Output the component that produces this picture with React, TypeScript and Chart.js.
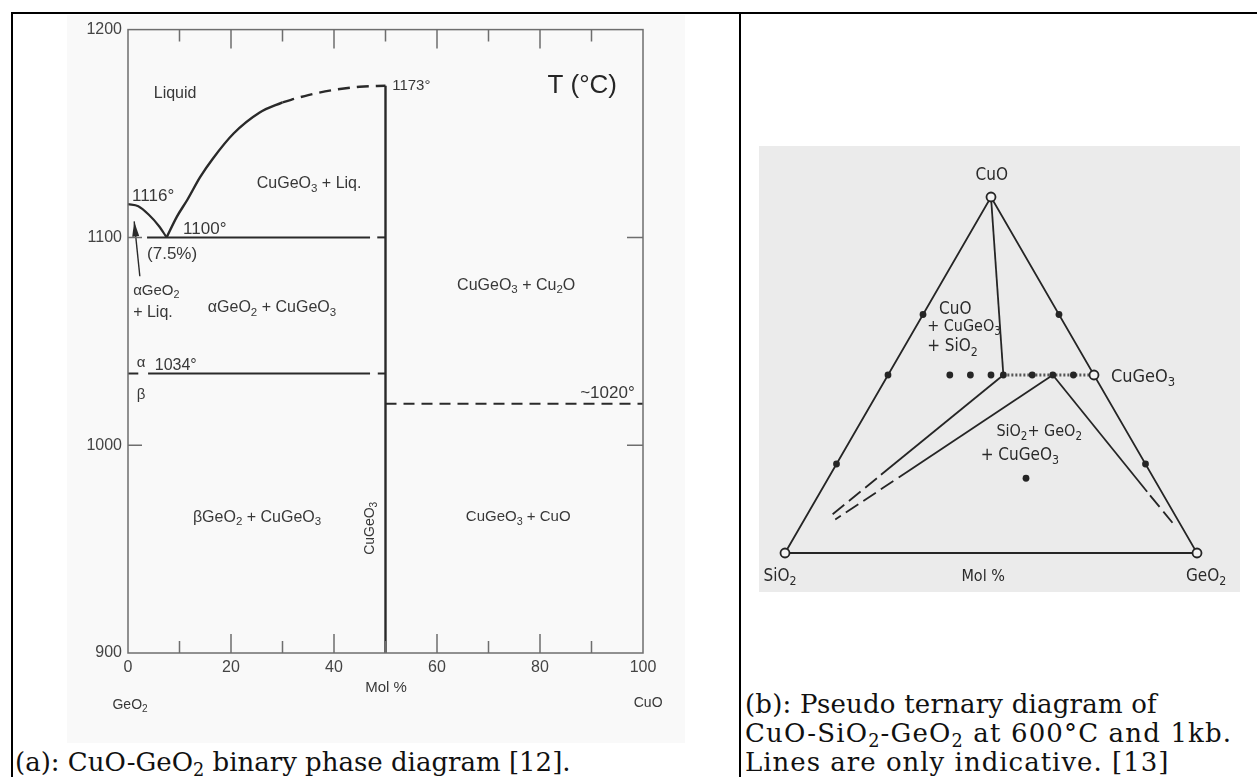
import React, { useEffect, useRef } from "react";
import { Chart, registerables } from "chart.js";

Chart.register(...registerables);

const SANS = "'Liberation Sans', Arial, Helvetica, sans-serif";
const NARROW = "'Liberation Sans Narrow', 'DejaVu Sans Condensed', 'Liberation Sans', sans-serif";
const SERIF = "'DejaVu Serif', 'Liberation Serif', serif";

// ---------------- Panel (a): CuO–GeO2 binary phase diagram ----------------
const xTickValues = [0, 20, 40, 60, 80, 100];
const yTickValues = [900, 1000, 1100, 1200];
const minorXTicks = [10, 30, 50, 70, 90];
const majorXTicks = [20, 40, 60, 80];
const sideTicks = [1000, 1100];

const liquidusLeftX = [0, 2, 4, 6, 7.5];
const liquidusLeftT = [1116, 1115, 1111, 1105.5, 1100];
const liquidusRightX = [7.5, 9.5, 11.5, 14, 16.5, 20.5, 25.5, 30];
const liquidusRightT = [1100, 1110, 1118, 1129, 1138, 1150, 1160, 1165];
const liquidusDashedX = [30, 35, 40, 45, 50];
const liquidusDashedT = [1165, 1168.5, 1171, 1172.5, 1173];
const compoundX = [50, 50];
const compoundT = [900, 1173];
const eutecticX = [3.7, 47];
const eutecticT = [1100, 1100];
const eutecticStubX = [48.4, 50];
const eutecticStubT = [1100, 1100];
const transitionX = [3.9, 47];
const transitionT = [1034.5, 1034.5];
const transitionStubLeftX = [0, 2];
const transitionStubRightX = [48.5, 50];
const transitionStubT = [1034.5, 1034.5];
const cu2oX = [50, 100];
const cu2oT = [1020, 1020];
const arrowX = [2.3, 1.2];
const arrowT = [1081.3, 1107.7];

const phaseLabelText = [
  "Liquid", "1173°", "T (°C)", "CuGeO_3 + Liq.", "1116°", "1100°", "(7.5%)",
  "αGeO_2", "+ Liq.", "αGeO_2 + CuGeO_3", "α", "1034°", "β",
  "CuGeO_3 + Cu_2O", "~1020°", "βGeO_2 + CuGeO_3", "CuGeO_3 + CuO",
  "Mol %", "GeO_2", "CuO",
];
const phaseLabelX = [5, 51.3, 88.2, 25, 0.8, 10.7, 3.7, 1.0, 1.0, 15.5, 1.7, 5.2, 1.7, 63.9, 87.8, 12.6, 65.6, 50.1, 0.4, 101];
const phaseLabelT = [1169, 1173, 1173, 1126, 1120, 1104, 1092, 1074.5, 1064, 1066, 1039.4, 1038.5, 1024, 1077, 1025, 965.4, 965.4, 883, 875, 876];
const phaseLabelAlign = ["left", "left", "center", "left", "left", "left", "left", "left", "left", "left", "left", "left", "left", "left", "left", "left", "left", "center", "center", "center"];
const phaseLabelSize = [16, 15, 26, 16, 17, 17, 17, 15, 16, 16, 15, 16, 15, 16, 17, 16, 15, 15, 14, 14];
const verticalLabelText = "CuGeO_3";
const verticalLabelX = 47;
const verticalLabelT = 960;

// ---------------- Panel (b): pseudo-ternary CuO–SiO2–GeO2 ----------------
// compositions in mol% [CuO, GeO2]; SiO2 = remainder
const openCuO = [100, 0, 0, 50];
const openGeO2 = [0, 0, 100, 50];
const dotCuO = [25, 50, 67, 25, 67, 50, 50, 50, 50, 50, 50, 50, 21];
const dotGeO2 = [0, 0, 0, 75, 33, 15, 20, 25, 28, 35, 40, 45, 48];
const edgeCuO = [0, 0, 100, 0];
const edgeGeO2 = [0, 100, 0, 0];
const apexTieCuO = [100, 50];
const apexTieGeO2 = [0, 28];
const tie1SolidCuO = [50, 22];
const tie1SolidGeO2 = [28, 12.3];
const tie1DashCuO = [21, 10];
const tie1DashGeO2 = [11.8, 5.6];
const tie2SolidCuO = [50, 21.2];
const tie2SolidGeO2 = [40, 17];
const tie2DashCuO = [20.2, 9.4];
const tie2DashGeO2 = [16.2, 7.5];
const tie3SolidCuO = [50, 17.2];
const tie3SolidGeO2 = [40, 79.3];
const tie3DashCuO = [16.2, 8.5];
const tie3DashGeO2 = [80.5, 89.8];
const dottedCuO = [50, 50];
const dottedGeO2 = [28, 50];

const ternLabelText = ["CuO", "CuO", "+ CuGeO_3", "+ SiO_2", "CuGeO_3", "SiO_2+ GeO_2", "+ CuGeO_3", "SiO_2", "Mol %", "GeO_2"];
const ternLabelX = [50.2, 37.4, 34.5, 34.5, 79.1, 61.7, 57.0, -1.2, 48.1, 102.2];
const ternLabelY = [91.7, 59.1, 55.0, 50.1, 42.8, 29.4, 23.8, -5.8, -5.8, -5.8];
const ternLabelAlign = ["center", "left", "left", "left", "left", "center", "center", "center", "center", "center"];
const ternLabelSize = [17, 17, 16, 17, 18, 16, 17, 17, 16, 17];

// ---------------- helpers ----------------
const pts = (xs: number[], ys: number[]) => xs.map((x, i) => ({ x, y: ys[i] }));
const SQ3 = Math.sqrt(3) / 2;
const tern = (cuo: number[], geo2: number[]) => cuo.map((c, i) => ({ x: geo2[i] + c / 2, y: c * SQ3 }));

function lineDs(data: any[], width: number, color: string, dash: number[] = [], tension = 0) {
  return {
    data,
    showLine: true,
    borderColor: color,
    backgroundColor: color,
    borderWidth: width,
    borderDash: dash,
    pointRadius: 0,
    pointHoverRadius: 0,
    fill: false,
    tension,
    cubicInterpolationMode: tension > 0 ? "monotone" : "default",
    clip: false,
  };
}

function drawRich(ctx: CanvasRenderingContext2D, text: string, x: number, y: number, size: number, align: string, family: string, color: string) {
  const parts: { t: string; sub: boolean }[] = [];
  const re = /_(\d)/g;
  let last = 0;
  let m: RegExpExecArray | null;
  while ((m = re.exec(text))) {
    if (m.index > last) parts.push({ t: text.slice(last, m.index), sub: false });
    parts.push({ t: m[1], sub: true });
    last = m.index + m[0].length;
  }
  if (last < text.length) parts.push({ t: text.slice(last), sub: false });
  const subSize = size * 0.72;
  let total = 0;
  const widths = parts.map((p) => {
    ctx.font = `${p.sub ? subSize : size}px ${family}`;
    const w = ctx.measureText(p.t).width;
    total += w;
    return w;
  });
  let cx = align === "center" ? x - total / 2 : align === "right" ? x - total : x;
  ctx.fillStyle = color;
  ctx.textBaseline = "middle";
  ctx.textAlign = "left";
  parts.forEach((p, i) => {
    ctx.font = `${p.sub ? subSize : size}px ${family}`;
    ctx.fillText(p.t, cx, p.sub ? y + size * 0.32 : y);
    cx += widths[i];
  });
}

const phasePlugin = {
  id: "phaseDecor",
  afterDatasetsDraw(chart: any) {
    const { ctx, chartArea: a, scales } = chart;
    const xs = scales.x;
    const ys = scales.y;
    ctx.save();
    ctx.strokeStyle = "#6e6e6e";
    ctx.lineWidth = 1.5;
    ctx.strokeRect(a.left, a.top, a.right - a.left, a.bottom - a.top);
    ctx.beginPath();
    minorXTicks.forEach((v) => {
      const px = xs.getPixelForValue(v);
      ctx.moveTo(px, a.top); ctx.lineTo(px, a.top + 12);
      ctx.moveTo(px, a.bottom); ctx.lineTo(px, a.bottom - 12);
    });
    majorXTicks.forEach((v) => {
      const px = xs.getPixelForValue(v);
      ctx.moveTo(px, a.top); ctx.lineTo(px, a.top + 19);
      ctx.moveTo(px, a.bottom); ctx.lineTo(px, a.bottom - 19);
    });
    sideTicks.forEach((v) => {
      const py = ys.getPixelForValue(v);
      ctx.moveTo(a.left, py); ctx.lineTo(a.left + 14, py);
      ctx.moveTo(a.right, py); ctx.lineTo(a.right - 16, py);
    });
    ctx.stroke();

    // arrowhead
    const x0 = xs.getPixelForValue(arrowX[0]);
    const y0 = ys.getPixelForValue(arrowT[0]);
    const x1 = xs.getPixelForValue(arrowX[1]);
    const y1 = ys.getPixelForValue(arrowT[1]);
    const len = Math.hypot(x1 - x0, y1 - y0);
    const dx = (x1 - x0) / len;
    const dy = (y1 - y0) / len;
    ctx.fillStyle = "#2a2a2a";
    ctx.beginPath();
    ctx.moveTo(x1, y1);
    ctx.lineTo(x1 - dx * 15 - dy * 3.5, y1 - dy * 15 + dx * 3.5);
    ctx.lineTo(x1 - dx * 15 + dy * 3.5, y1 - dy * 15 - dx * 3.5);
    ctx.closePath();
    ctx.fill();

    phaseLabelText.forEach((t, i) => {
      const px = xs.getPixelForValue(phaseLabelX[i]);
      const py = ys.getPixelForValue(phaseLabelT[i]);
      const color = i === 2 ? "#262626" : "#383838";
      drawRich(ctx, t, px, py, phaseLabelSize[i], phaseLabelAlign[i], SANS, color);
    });
    ctx.save();
    ctx.translate(xs.getPixelForValue(verticalLabelX), ys.getPixelForValue(verticalLabelT));
    ctx.rotate(-Math.PI / 2);
    drawRich(ctx, verticalLabelText, 0, 0, 14, "center", SANS, "#383838");
    ctx.restore();
    ctx.restore();
  },
};

const ternPlugin = {
  id: "ternDecor",
  afterDatasetsDraw(chart: any) {
    const { ctx, scales } = chart;
    ctx.save();
    ternLabelText.forEach((t, i) => {
      drawRich(ctx, t, scales.x.getPixelForValue(ternLabelX[i]), scales.y.getPixelForValue(ternLabelY[i]), ternLabelSize[i], ternLabelAlign[i], NARROW, "#2a2a2a");
    });
    ctx.restore();
  },
};

export default function App() {
  const leftRef = useRef<HTMLCanvasElement>(null);
  const rightRef = useRef<HTMLCanvasElement>(null);

  useEffect(() => {
    const ink = "#2a2a2a";
    const left = new Chart(leftRef.current as HTMLCanvasElement, {
      type: "scatter",
      data: {
        datasets: [
          lineDs(pts(liquidusLeftX, liquidusLeftT), 2.2, ink, [], 0.4),
          lineDs(pts(liquidusRightX, liquidusRightT), 2.4, ink, [], 0.4),
          lineDs(pts(liquidusDashedX, liquidusDashedT), 2.4, ink, [12, 7], 0.4),
          lineDs(pts(compoundX, compoundT), 2.4, ink),
          lineDs(pts(eutecticX, eutecticT), 2, ink),
          lineDs(pts(eutecticStubX, eutecticStubT), 2, ink),
          lineDs(pts(transitionX, transitionT), 2, ink),
          lineDs(pts(transitionStubLeftX, transitionStubT), 2, ink),
          lineDs(pts(transitionStubRightX, transitionStubT), 2, ink),
          lineDs(pts(cu2oX, cu2oT), 2, ink, [11, 7]),
          lineDs(pts(arrowX, arrowT), 1.4, ink),
        ] as any,
      },
      options: {
        animation: false,
        responsive: false,
        maintainAspectRatio: false,
        events: [],
        layout: { padding: { left: 0, top: 15, right: 95, bottom: 0 } },
        plugins: { legend: { display: false }, tooltip: { enabled: false } },
        scales: {
          x: {
            type: "linear",
            min: 0,
            max: 100,
            position: "bottom",
            grid: { display: false, drawTicks: false },
            border: { display: false },
            ticks: { padding: 5, autoSkip: false, maxRotation: 0, color: "#444444", font: { family: SANS, size: 16 }, callback: (v: any) => String(v) },
            afterBuildTicks: (s: any) => { s.ticks = xTickValues.map((v) => ({ value: v })); },
            afterFit: (s: any) => { s.height = 91; },
          },
          y: {
            type: "linear",
            min: 900,
            max: 1200,
            position: "left",
            grid: { display: false, drawTicks: false },
            border: { display: false },
            ticks: { padding: 6, autoSkip: false, color: "#444444", font: { family: SANS, size: 16 }, callback: (v: any) => String(v) },
            afterBuildTicks: (s: any) => { s.ticks = yTickValues.map((v) => ({ value: v })); },
            afterFit: (s: any) => { s.width = 114; },
          },
        } as any,
      },
      plugins: [phasePlugin],
    });

    const dark = "#252525";
    const right = new Chart(rightRef.current as HTMLCanvasElement, {
      type: "scatter",
      data: {
        datasets: [
          {
            data: tern(openCuO, openGeO2),
            pointRadius: 4.5,
            pointHoverRadius: 4.5,
            pointBackgroundColor: "#f4f4f4",
            pointBorderColor: dark,
            pointBorderWidth: 1.8,
            showLine: false,
            clip: false,
          },
          {
            data: tern(dotCuO, dotGeO2),
            pointRadius: 3.4,
            pointHoverRadius: 3.4,
            pointBackgroundColor: dark,
            pointBorderWidth: 0,
            showLine: false,
            clip: false,
          },
          lineDs(tern(edgeCuO, edgeGeO2), 1.8, dark),
          lineDs(tern(apexTieCuO, apexTieGeO2), 1.8, dark),
          lineDs(tern(tie1SolidCuO, tie1SolidGeO2), 1.8, dark),
          lineDs(tern(tie1DashCuO, tie1DashGeO2), 1.8, dark, [15, 6]),
          lineDs(tern(tie2SolidCuO, tie2SolidGeO2), 1.8, dark),
          lineDs(tern(tie2DashCuO, tie2DashGeO2), 1.8, dark, [15, 6]),
          lineDs(tern(tie3SolidCuO, tie3SolidGeO2), 1.8, dark),
          lineDs(tern(tie3DashCuO, tie3DashGeO2), 1.8, dark, [15, 6]),
          lineDs(tern(dottedCuO, dottedGeO2), 3, "#555555", [2, 2]),
        ] as any,
      },
      options: {
        animation: false,
        responsive: false,
        maintainAspectRatio: false,
        events: [],
        layout: { padding: { left: 26, right: 43, top: 51, bottom: 39 } },
        plugins: { legend: { display: false }, tooltip: { enabled: false } },
        scales: {
          x: { type: "linear", min: 0, max: 100, display: false },
          y: { type: "linear", min: 0, max: 100 * SQ3, display: false },
        } as any,
      },
      plugins: [ternPlugin],
    });

    return () => {
      left.destroy();
      right.destroy();
    };
  }, []);

  const subStyle: React.CSSProperties = { fontSize: "0.68em", verticalAlign: "baseline", position: "relative", top: "0.28em", lineHeight: 0 };

  return (
    <div style={{ position: "absolute", left: 0, top: 0, width: 1257, height: 777, overflow: "hidden", background: "#ffffff" }}>
      {/* table borders */}
      <div style={{ position: "absolute", left: 11, top: 12, width: 1246, height: 2, background: "#000" }} />
      <div style={{ position: "absolute", left: 11, top: 12, width: 2, height: 765, background: "#000" }} />
      <div style={{ position: "absolute", left: 739, top: 12, width: 2, height: 765, background: "#000" }} />

      {/* panel (a) */}
      <div style={{ position: "absolute", left: 67, top: 15, width: 618, height: 728, background: "#f9f9f9" }} />
      <div style={{ position: "absolute", left: 14, top: 14, width: 724, height: 730 }}>
        <canvas ref={leftRef} width={724} height={730} />
      </div>
      <div style={{ position: "absolute", left: 15, top: 748, fontFamily: SERIF, fontSize: 26, lineHeight: "29px", whiteSpace: "nowrap", color: "#111" }}>
        (a): CuO-GeO<sub style={subStyle}>2</sub> binary phase diagram [12].
      </div>

      {/* panel (b) */}
      <div style={{ position: "absolute", left: 759, top: 146, width: 481, height: 446, background: "#ebebeb" }}>
        <canvas ref={rightRef} width={481} height={446} />
      </div>
      <div style={{ position: "absolute", left: 745, top: 690, fontFamily: SERIF, fontSize: 26, lineHeight: "29px", whiteSpace: "nowrap", color: "#111" }}>
        <span style={{ letterSpacing: "0.2px" }}>(b): Pseudo ternary diagram of</span>
        <br />
        <span style={{ letterSpacing: "1.15px" }}>
          CuO-SiO<sub style={subStyle}>2</sub>-GeO<sub style={subStyle}>2</sub> at 600°C and 1kb.
        </span>
        <br />
        <span style={{ letterSpacing: "1px" }}>Lines are only indicative. [13]</span>
      </div>
    </div>
  );
}
